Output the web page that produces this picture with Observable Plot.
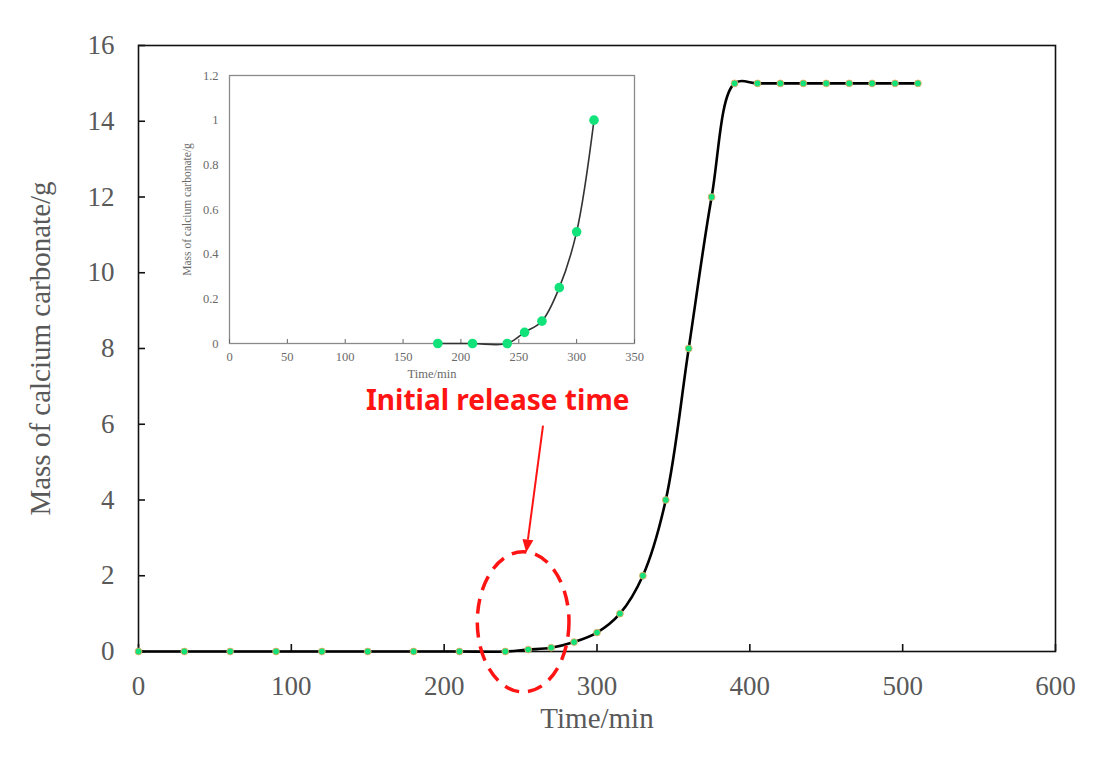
<!DOCTYPE html>
<html>
<head>
<meta charset="utf-8">
<script src="https://cdn.jsdelivr.net/npm/d3@7"></script>
<script src="https://cdn.jsdelivr.net/npm/@observablehq/plot@0.6"></script>
<style>
  body { margin: 0; background: #fff; }
  #wrap { position: relative; width: 1102px; height: 758px; }
  #wrap svg { position: absolute; overflow: visible; }
</style>
</head>
<body>
<div id="wrap"></div>
<script>
// ---- data ----
const timeMin = [0, 30, 60, 90, 120, 150, 180, 210, 240, 255, 270, 285, 300, 315, 330, 345, 360, 375, 390, 405, 420, 435, 450, 465, 480, 495, 510];
const massG   = [0, 0, 0, 0, 0, 0, 0, 0, 0, 0.05, 0.1, 0.25, 0.5, 1, 2, 4, 8, 12, 15, 15, 15, 15, 15, 15, 15, 15, 15];
const insetTime = [180, 210, 240, 255, 270, 285, 300, 315];
const insetMass = [0, 0, 0, 0.05, 0.1, 0.25, 0.5, 1];
const xTicksMain = [0, 100, 200, 300, 400, 500, 600];
const yTicksMain = [0, 2, 4, 6, 8, 10, 12, 14, 16];
const xTicksInset = [0, 50, 100, 150, 200, 250, 300, 350];
const yTicksInset = [0, 0.2, 0.4, 0.6, 0.8, 1, 1.2];
const xLabel = "Time/min";
const yLabel = "Mass of calcium carbonate/g";
const noteText = "Initial release time";
// annotation in data units: text position, arrow start/end, ellipse centre & radii
const notePos = [235, 6.6];
const arrowFrom = [265, 5.95];
const arrowTo = [254, 2.6];
const ellipseC = [252, 0.77];
const ellipseR = [30, 1.85];

const main = timeMin.map((t, i) => ({t, m: massG[i]}));
const inset = insetTime.map((t, i) => ({t, m: insetMass[i]}));

const serif = "'Liberation Serif', 'Times New Roman', serif";
const green = "#12e27a";
const red = "#ff1414";

function ellipseMark(c, r) {
  return (index, {x, y}) => {
    return d3.create("svg:ellipse")
      .attr("cx", x(c[0])).attr("cy", y(c[1]))
      .attr("rx", Math.abs(x(c[0] + r[0]) - x(c[0])))
      .attr("ry", Math.abs(y(c[1] + r[1]) - y(c[1])))
      .attr("fill", "none").attr("stroke", red)
      .attr("stroke-width", 3.5).attr("stroke-dasharray", "15,9")
      .node();
  };
}
function arrowMark(a, b) {
  return (index, {x, y}) => {
    const x1 = x(a[0]), y1 = y(a[1]), x2 = x(b[0]), y2 = y(b[1]);
    const ang = Math.atan2(y2 - y1, x2 - x1), L = 13, W = 5.5;
    const bx = x2 - L * Math.cos(ang), by = y2 - L * Math.sin(ang);
    const px = -Math.sin(ang) * W, py = Math.cos(ang) * W;
    const g = d3.create("svg:g");
    g.append("line").attr("x1", x1).attr("y1", y1).attr("x2", bx).attr("y2", by)
      .attr("stroke", red).attr("stroke-width", 2);
    g.append("path").attr("d", `M${x2},${y2}L${bx + px},${by + py}L${bx - px},${by - py}Z`)
      .attr("fill", red);
    return g.node();
  };
}

const mainPlot = Plot.plot({
  width: 1102, height: 758,
  marginLeft: 138, marginRight: 47, marginTop: 45, marginBottom: 107,
  style: {fontFamily: serif, background: "transparent", overflow: "visible"},
  x: {domain: [0, 600]},
  y: {domain: [0, 16]},
  marks: [
    Plot.frame({stroke: "#111", strokeWidth: 1.6}),
    Plot.axisX({ticks: xTicksMain, tickSize: -7, stroke: "#111", strokeWidth: 1.6, text: null, label: null}),
    Plot.axisX({ticks: xTicksMain, tickSize: 0, tickPadding: 24, fontSize: 27, fill: "#595959", label: null}),
    Plot.axisY({ticks: yTicksMain, tickSize: -7, stroke: "#111", strokeWidth: 1.6, text: null, label: null}),
    Plot.axisY({ticks: yTicksMain, tickSize: 0, tickPadding: 24, fontSize: 27, fill: "#595959", label: null}),
    Plot.text([xLabel], {frameAnchor: "bottom", text: d => d, dy: 67, lineAnchor: "middle", textAnchor: "middle", fontSize: 29, fill: "#595959"}),
    Plot.text([yLabel], {frameAnchor: "left", text: d => d, dx: -98, rotate: -90, lineAnchor: "middle", textAnchor: "middle", fontSize: 29, fill: "#595959"}),
    Plot.line(main, {x: "t", y: "m", curve: "catmull-rom", stroke: "#000", strokeWidth: 2.6}),
    Plot.dot(main, {x: "t", y: "m", r: 3.4, fill: green, stroke: "#f4a460", strokeWidth: 0.8}),
    ellipseMark(ellipseC, ellipseR),
    arrowMark(arrowFrom, arrowTo),
    Plot.text([noteText], {x: () => notePos[0], y: () => notePos[1], text: d => d, fill: red, fontSize: 28, fontWeight: "bold", fontFamily: "'Noto Sans', 'Open Sans', sans-serif"})
  ]
});
mainPlot.style.left = "0px"; mainPlot.style.top = "0px";

const insetPlot = Plot.plot({
  width: 475, height: 318,
  marginLeft: 50, marginRight: 20, marginTop: 15, marginBottom: 35,
  style: {fontFamily: serif, background: "transparent", overflow: "visible"},
  x: {domain: [0, 350]},
  y: {domain: [0, 1.2]},
  marks: [
    Plot.frame({stroke: "#8a8a8a", strokeWidth: 1.3}),
    Plot.axisX({ticks: xTicksInset, tickSize: -4, stroke: "#666", text: null, label: null}),
    Plot.axisX({ticks: xTicksInset, tickSize: 0, tickPadding: 9, fontSize: 12.5, fill: "#6a6a6a", label: null}),
    Plot.axisY({ticks: yTicksInset, tickSize: 0, tickPadding: 11, fontSize: 12.5, fill: "#6a6a6a", tickFormat: d => String(+d.toFixed(1)), label: null}),
    Plot.text([xLabel], {frameAnchor: "bottom", text: d => d, dy: 30, lineAnchor: "middle", textAnchor: "middle", fontSize: 12.5, fill: "#6a6a6a"}),
    Plot.text([yLabel], {frameAnchor: "left", text: d => d, dx: -42, rotate: -90, lineAnchor: "middle", textAnchor: "middle", fontSize: 11.5, fill: "#6a6a6a"}),
    Plot.line(inset, {x: "t", y: "m", curve: "catmull-rom", stroke: "#333", strokeWidth: 1.6}),
    Plot.dot(inset, {x: "t", y: "m", r: 4.8, fill: green})
  ]
});
insetPlot.style.left = "179px"; insetPlot.style.top = "60px";

const wrap = document.getElementById("wrap");
wrap.appendChild(mainPlot);
wrap.appendChild(insetPlot);
</script>
</body>
</html>
